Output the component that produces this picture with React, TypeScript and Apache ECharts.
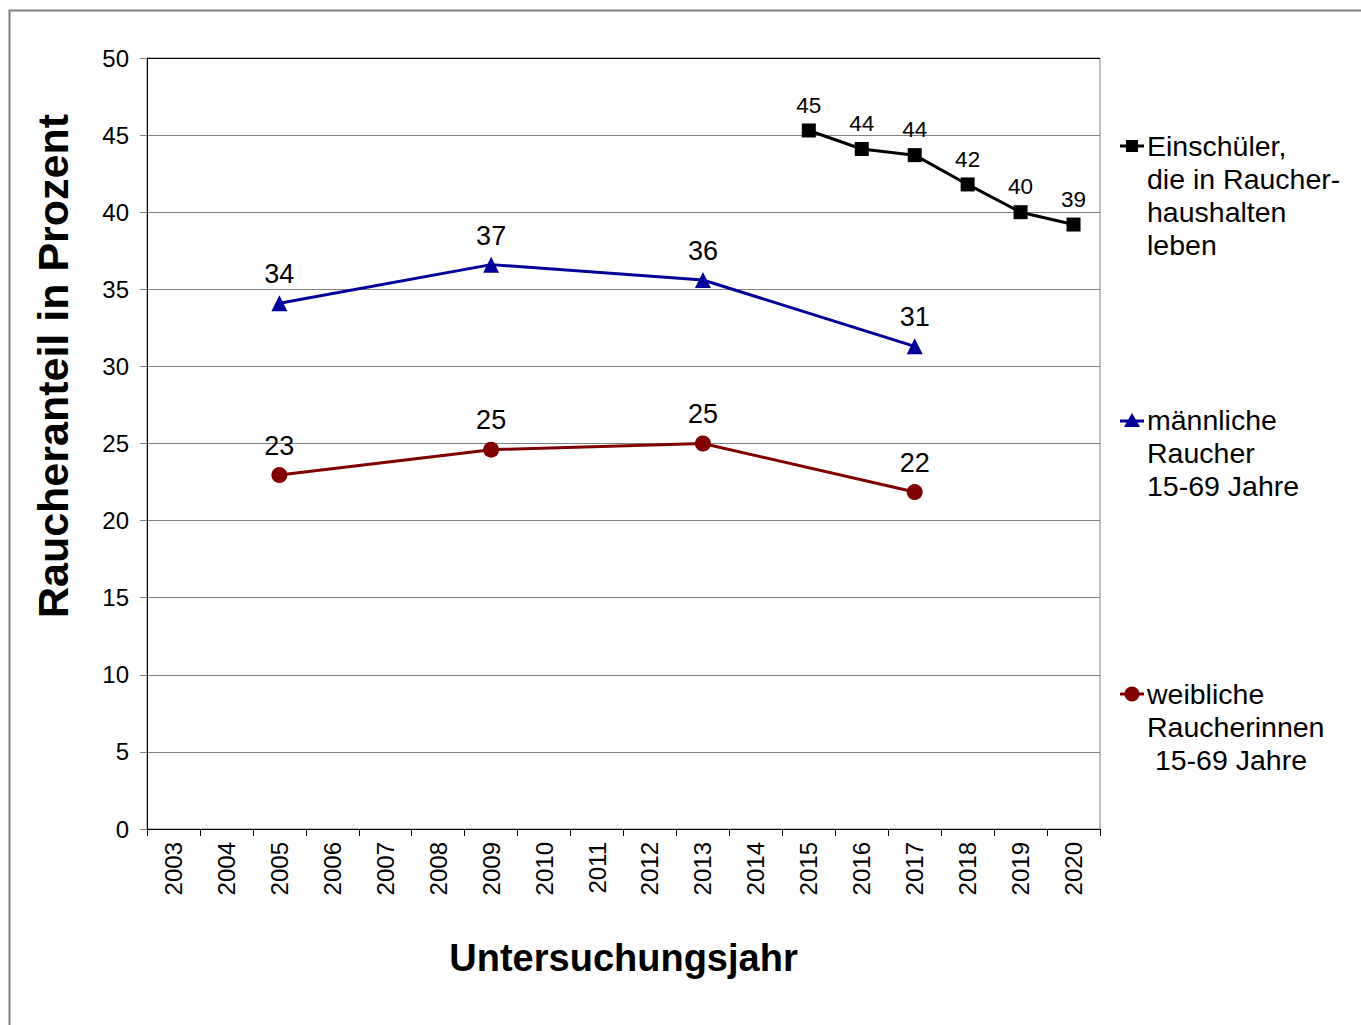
import React, { useEffect, useRef } from "react";
import * as echarts from "echarts";

const years = ["2003","2004","2005","2006","2007","2008","2009","2010","2011","2012","2013","2014","2015","2016","2017","2018","2019","2020"];
const einschueler = [null,null,null,null,null,null,null,null,null,null,null,null,45.3,44.1,43.7,41.8,40.0,39.2];
const maennlich = [null,null,34.1,null,null,null,36.6,null,null,null,35.6,null,null,null,31.3,null,null,null];
const weiblich = [null,null,22.95,null,null,null,24.6,null,null,null,25.0,null,null,null,21.85,null,null,null];
const yTicks = [0,5,10,15,20,25,30,35,40,45,50];

const FONT = "'Liberation Sans', Arial, sans-serif";
const BLUE = "#000099";
const RED = "#800000";
const LEG = 28.5;

export default function App() {
  const ref = useRef<HTMLDivElement>(null);
  useEffect(() => {
    const chart = echarts.init(ref.current!, null, { renderer: "svg" });
    const splitColors = yTicks.map((v, i) => (i === yTicks.length - 1 ? "#000" : "#808080"));
    const lbl = (size: number, dist: number) => ({
      show: true,
      position: "top",
      distance: dist,
      fontSize: size,
      fontFamily: FONT,
      color: "#000",
      formatter: (p: any) => String(Math.round(p.value)),
    });
    const option: any = {
      animation: false,
      backgroundColor: "#fff",
      textStyle: { fontFamily: FONT },
      grid: {
        left: 147, right: 261, top: 58, bottom: 196,
        show: true, borderColor: "#808080", borderWidth: 1,
      },
      xAxis: {
        type: "category",
        data: years,
        boundaryGap: true,
        axisLine: { lineStyle: { color: "#000", width: 1 } },
        axisTick: { show: true, interval: 0, length: 7, lineStyle: { color: "#000" } },
        axisLabel: { interval: 0, rotate: 90, fontSize: 24, fontFamily: FONT, color: "#000", margin: 13 },
        name: "Untersuchungsjahr",
        nameLocation: "middle",
        nameGap: 110,
        nameTextStyle: { fontSize: 38, fontWeight: "bold", fontFamily: FONT, color: "#000" },
        splitLine: { show: false },
      },
      yAxis: {
        type: "value",
        min: 0, max: 50, interval: 5,
        axisLine: { show: true, lineStyle: { color: "#000", width: 1 } },
        axisTick: { show: true, length: 7, lineStyle: { color: "#808080" } },
        axisLabel: { fontSize: 24, fontFamily: FONT, color: "#000", margin: 18 },
        splitLine: { show: true, lineStyle: { color: splitColors, width: 1 } },
      },
      series: [
        {
          name: "Einschüler, die in Raucherhaushalten leben",
          type: "line",
          data: einschueler,
          connectNulls: true,
          symbol: "rect",
          symbolSize: 14,
          lineStyle: { color: "#000", width: 3 },
          itemStyle: { color: "#000" },
          label: lbl(22.5, 6.75),
        },
        {
          name: "männliche Raucher 15-69 Jahre",
          type: "line",
          data: maennlich,
          connectNulls: true,
          symbol: "triangle",
          symbolSize: 16,
          lineStyle: { color: BLUE, width: 3 },
          itemStyle: { color: BLUE },
          label: lbl(27, 7.5),
        },
        {
          name: "weibliche Raucherinnen 15-69 Jahre",
          type: "line",
          data: weiblich,
          connectNulls: true,
          symbol: "circle",
          symbolSize: 16,
          lineStyle: { color: RED, width: 3 },
          itemStyle: { color: RED },
          label: lbl(27, 8),
        },
      ],
      graphic: [
        {
          type: "rect",
          shape: { x: 9.5, y: 10.5, width: 1500, height: 1200 },
          style: { fill: "none", stroke: "#808080", lineWidth: 2 },
          silent: true,
        },
        {
          type: "text",
          x: 53, y: 366,
          rotation: Math.PI / 2,
          style: {
            text: "Raucheranteil in Prozent",
            fontSize: 43, fontWeight: "bold", fontFamily: FONT, fill: "#000",
            align: "center", verticalAlign: "middle",
          },
        },
        // legend: Einschüler
        { type: "line", shape: { x1: 1120, y1: 146, x2: 1144, y2: 146 }, style: { stroke: "#000", lineWidth: 3 } },
        { type: "rect", shape: { x: 1126, y: 140, width: 12, height: 12 }, style: { fill: "#000" } },
        {
          type: "text", x: 1147, y: 129.5,
          style: {
            text: "Einschüler,\ndie in Raucher-\nhaushalten\nleben",
            fontSize: LEG, lineHeight: 33, fontFamily: FONT, fill: "#000",
            align: "left", verticalAlign: "top",
          },
        },
        // legend: männlich
        { type: "line", shape: { x1: 1120, y1: 421, x2: 1144, y2: 421 }, style: { stroke: BLUE, lineWidth: 3 } },
        { type: "polygon", shape: { points: [[1132, 413], [1140, 427], [1124, 427]] }, style: { fill: BLUE } },
        {
          type: "text", x: 1147, y: 403.5,
          style: {
            text: "männliche\nRaucher\n15-69 Jahre",
            fontSize: LEG, lineHeight: 33, fontFamily: FONT, fill: "#000",
            align: "left", verticalAlign: "top",
          },
        },
        // legend: weiblich
        { type: "line", shape: { x1: 1120, y1: 694, x2: 1144, y2: 694 }, style: { stroke: RED, lineWidth: 3 } },
        { type: "circle", shape: { cx: 1132, cy: 694, r: 7.5 }, style: { fill: RED } },
        {
          type: "text", x: 1147, y: 677.5,
          style: {
            text: "weibliche\nRaucherinnen\n 15-69 Jahre",
            fontSize: LEG, lineHeight: 33, fontFamily: FONT, fill: "#000",
            align: "left", verticalAlign: "top",
          },
        },
      ],
    };
    chart.setOption(option);
    return () => chart.dispose();
  }, []);
  return (
    <div
      ref={ref}
      style={{ position: "absolute", left: 0, top: 0, width: 1361, height: 1025, background: "#fff" }}
    />
  );
}
